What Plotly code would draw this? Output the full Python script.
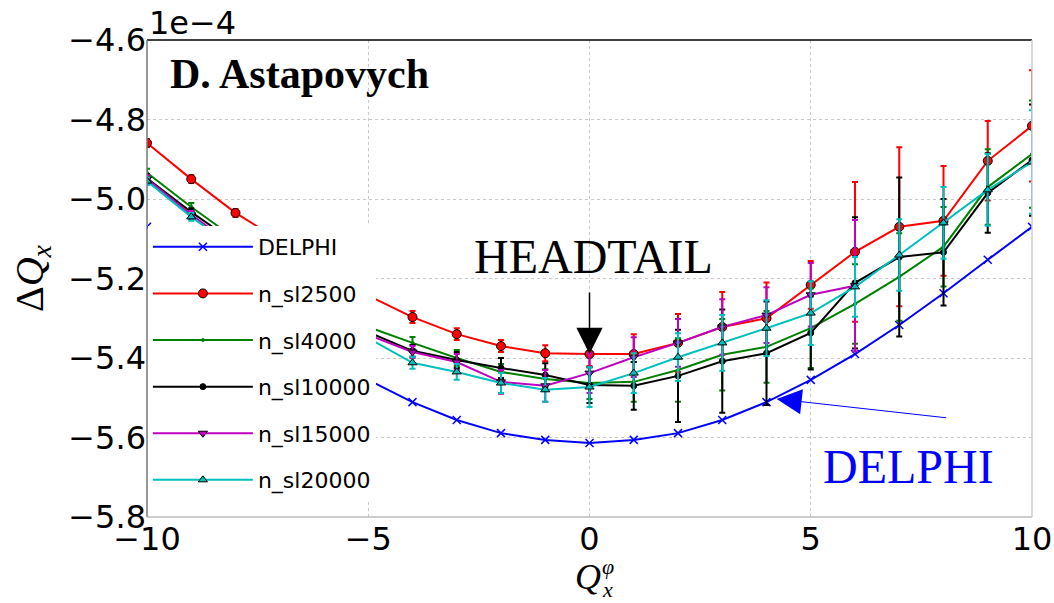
import plotly.graph_objects as go

# Horizontal tune shift dQx (in units of 1e-4) versus chromaticity Qx^phi
q_phi = list(range(-10, 11))

dq_delphi = [-5.070, -5.153, -5.237, -5.317, -5.390, -5.455, -5.511, -5.556, -5.589, -5.606,
             -5.614, -5.606, -5.589, -5.556, -5.511, -5.455, -5.390, -5.317, -5.237, -5.153, -5.070]

dq_sl2500 = [-4.859, -4.950, -5.035, -5.105, -5.175, -5.243, -5.297, -5.340, -5.370, -5.388,
             -5.390, -5.390, -5.362, -5.322, -5.300, -5.216, -5.133, -5.070, -5.055, -4.904, -4.816]
err_sl2500 = [0.01, 0.01, 0.01, 0.01, 0.01, 0.01, 0.015, 0.015, 0.015, 0.02,
              0.03, 0.05, 0.073, 0.088, 0.09, 0.06, 0.176, 0.20, 0.138, 0.10, 0.14]

dq_sl4000 = [-4.934, -5.020, -5.100, -5.180, -5.255, -5.322, -5.362, -5.400, -5.435, -5.453,
             -5.463, -5.460, -5.430, -5.392, -5.372, -5.325, -5.264, -5.196, -5.120, -4.970, -4.887]
err_sl4000 = [0.01, 0.01, 0.01, 0.01, 0.01, 0.01, 0.015, 0.02, 0.02, 0.025,
              0.04, 0.05, 0.08, 0.09, 0.09, 0.10, 0.10, 0.11, 0.10, 0.095, 0.135]

dq_sl10000 = [-4.948, -5.033, -5.110, -5.190, -5.265, -5.335, -5.382, -5.405, -5.425, -5.443,
              -5.468, -5.470, -5.445, -5.408, -5.388, -5.337, -5.211, -5.146, -5.134, -4.985, -4.902]
err_sl10000 = [0.01, 0.01, 0.01, 0.01, 0.01, 0.01, 0.015, 0.02, 0.025, 0.03,
               0.045, 0.06, 0.116, 0.13, 0.13, 0.092, 0.165, 0.20, 0.134, 0.10, 0.14]

q_phi_sl15000 = list(range(-10, 7))
dq_sl15000 = [-4.950, -5.040, -5.120, -5.200, -5.275, -5.342, -5.385, -5.410, -5.460, -5.470,
              -5.438, -5.398, -5.362, -5.322, -5.292, -5.241, -5.218]
err_sl15000 = [0.01, 0.01, 0.01, 0.01, 0.01, 0.01, 0.015, 0.02, 0.03, 0.04,
               0.05, 0.05, 0.06, 0.07, 0.07, 0.08, 0.165]

dq_sl20000 = [-4.955, -5.045, -5.125, -5.205, -5.280, -5.350, -5.412, -5.435, -5.463, -5.480,
              -5.473, -5.438, -5.398, -5.362, -5.325, -5.287, -5.221, -5.141, -5.060, -4.977, -4.907]
err_sl20000 = [0.01, 0.01, 0.01, 0.01, 0.01, 0.01, 0.015, 0.02, 0.025, 0.03,
               0.05, 0.05, 0.06, 0.07, 0.07, 0.08, 0.075, 0.09, 0.09, 0.09, 0.13]

y_ticks = [-5.8, -5.6, -5.4, -5.2, -5.0, -4.8, -4.6]
x_ticks = [-10, -5, 0, 5, 10]

TICK_FONT = dict(family="DejaVu Sans", size=32, color="black")
SERIF = "Liberation Serif"

fig = go.Figure()


def add_series(name, x, y, err, color, symbol, size, mline_color, mline_w=1):
    fig.add_trace(go.Scatter(
        x=x, y=y, name=name, legendgroup=name, mode="lines+markers",
        line=dict(color=color, width=2),
        marker=dict(symbol=symbol, size=size, color=color,
                    line=dict(color=mline_color, width=mline_w)),
        error_y=None if err is None else dict(type="data", array=err, visible=True,
                                              color=color, thickness=2, width=3),
    ))


add_series("DELPHI", q_phi, dq_delphi, None, "#0000ff", "x-thin", 8, "#0000ff", 1.5)
add_series("n_sl2500", q_phi, dq_sl2500, err_sl2500, "#ff0000", "circle", 9, "black")
add_series("n_sl4000", q_phi, dq_sl4000, err_sl4000, "#008000", "circle", 3, "#008000")
add_series("n_sl10000", q_phi, dq_sl10000, err_sl10000, "#000000", "circle", 6, "black")
add_series("n_sl15000", q_phi_sl15000, dq_sl15000, err_sl15000, "#bf00bf", "triangle-down", 8, "black")
add_series("n_sl20000", q_phi, dq_sl20000, err_sl20000, "#00bfbf", "triangle-up", 8, "black")

grid = dict(showgrid=True, gridcolor="#c8c8c8", griddash="dot", gridwidth=1, zeroline=False)

fig.update_xaxes(range=[-10, 10], tickvals=x_ticks,
                 ticktext=[f"{v:g}".replace("-", "\u2212") for v in x_ticks],
                 tickfont=TICK_FONT, ticks="", showline=False, automargin=False, **grid)
fig.update_yaxes(range=[-5.8, -4.6], tickvals=y_ticks,
                 ticktext=[f"{v:.1f}".replace("-", "\u2212") for v in y_ticks],
                 tickfont=TICK_FONT, ticks="", showline=False, automargin=False, **grid,
                 title=dict(text="\u0394<i>Q</i><sub><i>x</i></sub>",
                            font=dict(family=SERIF, size=40, color="black"), standoff=12))

# Frame around the axes
for x0, y0, x1, y1, c in [(0, 1, 1, 1, "black"), (0, 0, 0, 1, "#777777"),
                          (0, 0, 1, 0, "#bbbbbb"), (1, 0, 1, 1, "#cccccc")]:
    fig.add_shape(type="line", xref="paper", yref="paper", x0=x0, y0=y0, x1=x1, y1=y1,
                  line=dict(color=c, width=1.5))

annotations = [
    dict(text="1e\u22124", xref="paper", yref="paper", x=0, y=1, xanchor="left", yanchor="bottom",
         yshift=-4, showarrow=False, font=TICK_FONT),
    dict(text="<b>D. Astapovych</b>", xref="paper", yref="paper", x=0.024, y=0.929,
         xanchor="left", yanchor="middle", showarrow=False,
         font=dict(family=SERIF, size=42, color="black")),
    dict(text="HEADTAIL", x=0.09, y=-5.145, xanchor="center", yanchor="middle", showarrow=False,
         font=dict(family=SERIF, size=48, color="black")),
    dict(text="", x=0, y=-5.39, ax=0, ay=-63, showarrow=True, arrowhead=2,
         arrowsize=3.5, arrowwidth=1.5, arrowcolor="black"),
    dict(text="DELPHI", x=7.2, y=-5.674, xanchor="center", yanchor="middle", showarrow=False,
         font=dict(family=SERIF, size=48, color="#0000ff")),
    dict(text="", x=4.23, y=-5.503, ax=171, ay=19, showarrow=True, arrowhead=2,
         arrowsize=5, arrowwidth=1, arrowcolor="#0000ff"),
    # x-axis label Q_x^phi built from three pieces
    dict(text="<i>Q</i>", xref="paper", yref="paper", x=0.498, y=0,
         xanchor="center", yanchor="middle", yshift=-60, showarrow=False,
         font=dict(family=SERIF, size=36, color="black")),
    dict(text="<i>x</i>", xref="paper", yref="paper", x=0.512, y=0,
         xanchor="left", yanchor="middle", yshift=-72, showarrow=False,
         font=dict(family=SERIF, size=22, color="black")),
    dict(text="<i>\u03c6</i>", xref="paper", yref="paper", x=0.512, y=0,
         xanchor="left", yanchor="middle", yshift=-49, showarrow=False,
         font=dict(family=SERIF, size=22, color="black")),
]

fig.update_layout(
    width=1054, height=603,
    margin=dict(l=147, r=22, t=40, b=86),
    paper_bgcolor="white", plot_bgcolor="white",
    annotations=annotations,
    showlegend=True,
    legend=dict(x=0.001, y=0.61, xanchor="left", yanchor="top",
                bgcolor="white", borderwidth=0, traceorder="grouped",
                tracegroupgap=15, itemwidth=100,
                font=dict(family="DejaVu Sans", size=22, color="black")),
)

fig.write_html("out.html")
